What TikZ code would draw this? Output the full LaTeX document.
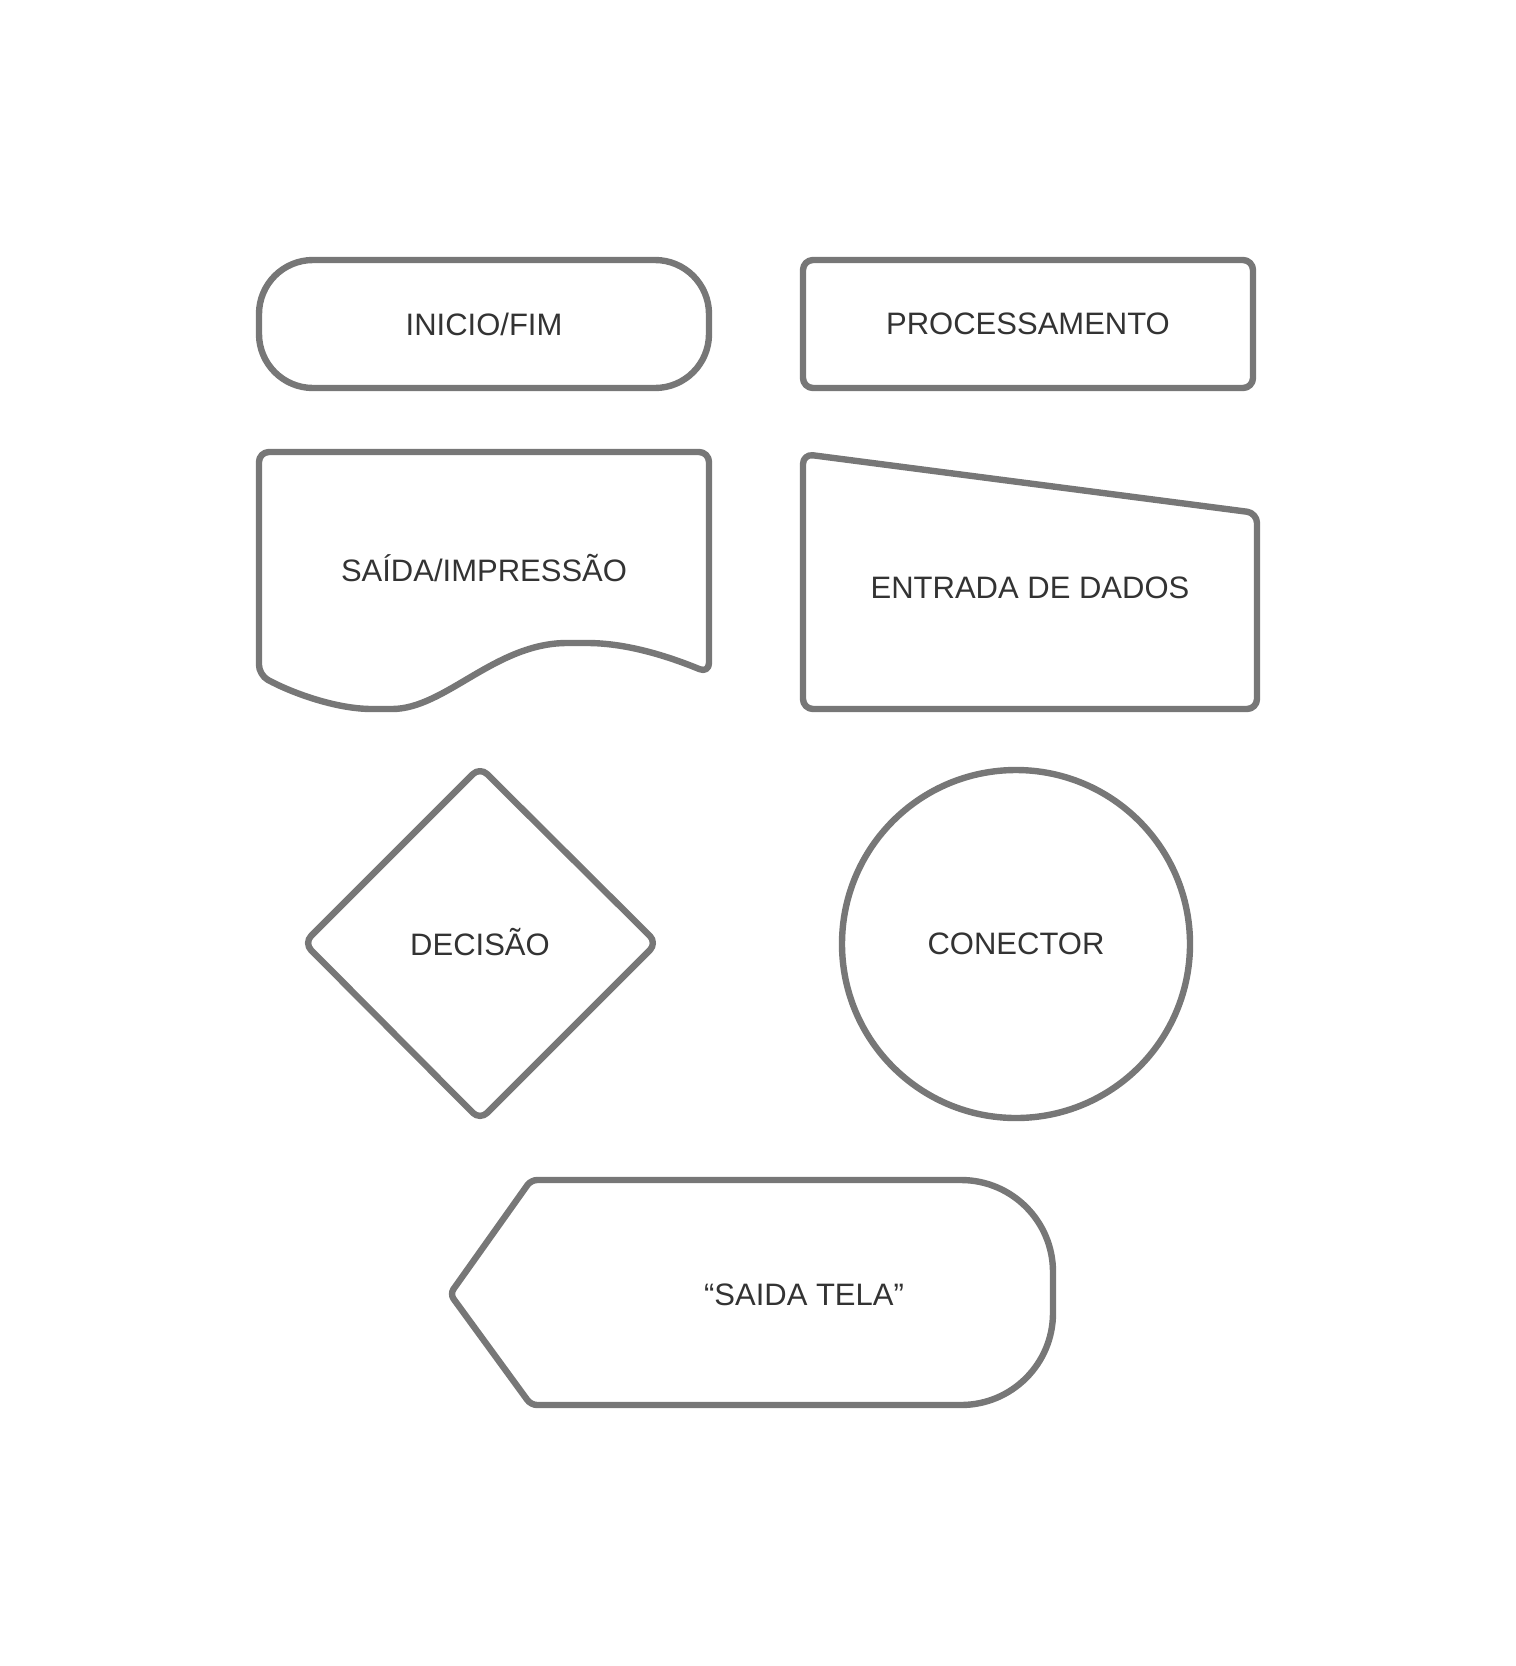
\documentclass[tikz,border=0pt]{standalone}
\usepackage{fontspec}
\setmainfont{Liberation Sans}
\definecolor{edge}{HTML}{777777}
\definecolor{ink}{HTML}{333333}
\begin{document}
\begin{tikzpicture}[x=0.5pt,y=-0.5pt,
  shapeline/.style={draw=edge,line width=3.2pt,line join=round},
  lbl/.style={text=ink,font=\fontsize{15.5pt}{18pt}\selectfont,inner sep=0pt}]
\useasboundingbox (0,0) rectangle (1516,1666);
% INICIO/FIM
\node[shapeline,rectangle,rounded corners=27pt,minimum width=225pt,minimum height=64pt] (inicio) at (484,324) {};
\node[lbl] (tinicio) at (inicio.center) {INICIO/FIM};
% PROCESSAMENTO
\node[shapeline,rectangle,rounded corners=5pt,minimum width=225pt,minimum height=64pt] (proc) at (1028,324) {};
\node[lbl] (tproc) at (proc.center) {PROCESSAMENTO};
% SAIDA/IMPRESSAO
\draw[shapeline,rounded corners=5pt] (709,673) .. controls (665,655) and (625,643) .. (577,643)
  .. controls (495,643) and (445,709) .. (382,709)
  .. controls (335,709) and (290,692) .. (259,675)
  -- (259,452) -- (709,452) -- cycle;
\node[lbl] (tsaida) at (484,568) {SAÍDA/IMPRESSÃO};
% ENTRADA DE DADOS
\draw[shapeline,rounded corners=5pt] (803,454) -- (1257,513) -- (1257,709) -- (803,709) -- cycle;
\node[lbl] (tentrada) at (1030,588) {ENTRADA DE DADOS};
% DECISAO
\draw[shapeline,rounded corners=5pt] (480,767) -- (657,943) -- (480,1120) -- (304,943) -- cycle;
\node[lbl] (tdecisao) at (480,942) {DECISÃO};
% CONECTOR
\node[shapeline,circle,minimum size=174pt,inner sep=0pt] (conector) at (1016,944) {};
\node[lbl] (tconector) at (conector.center) {CONECTOR};
% SAIDA TELA
\draw[shapeline,rounded corners=3pt] (450,1294) -- (531,1180) [rounded corners=46pt] -- (1053,1180) -- (1053,1405) [rounded corners=3pt] -- (531,1405) -- cycle;
\node[lbl] (ttela) at (804,1295) {“SAIDA TELA”};
\end{tikzpicture}
\end{document}
